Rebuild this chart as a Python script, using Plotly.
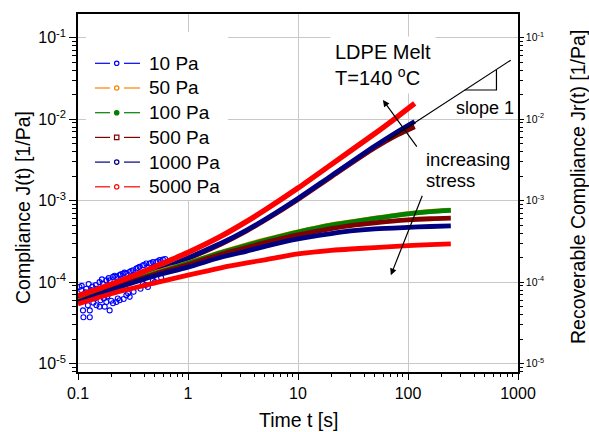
import plotly.graph_objects as go

FONT = "Arial, 'Liberation Sans', Helvetica, sans-serif"

# ---------------- data ----------------
stress_labels = ["10 Pa", "50 Pa", "100 Pa", "500 Pa", "1000 Pa", "5000 Pa"]
stress_colors = ["#0000FF", "#FF8000", "#008000", "#800000", "#000080", "#FF0000"]

# 10 Pa creep compliance (noisy, short times only)
t_10 = [0.103, 0.107, 0.115, 0.111, 0.112, 0.128, 0.128, 0.123, 0.142, 0.147,
        0.157, 0.168, 0.181, 0.194, 0.208, 0.223, 0.239, 0.256, 0.275, 0.295,
        0.316, 0.339, 0.363, 0.389, 0.417, 0.448, 0.480, 0.514, 0.552, 0.592,
        0.157, 0.175, 0.194, 0.223, 0.239, 0.275, 0.295, 0.208, 0.181, 0.147,
        0.132, 0.119, 0.389, 0.432, 0.480, 0.552, 0.152,
        0.105, 0.108, 0.118, 0.125, 0.135, 0.138, 0.145, 0.160, 0.165, 0.172,
        0.185, 0.190, 0.200, 0.215, 0.230, 0.245, 0.260, 0.265, 0.285, 0.305,
        0.320, 0.350, 0.370, 0.400, 0.410, 0.460, 0.500, 0.530, 0.570, 0.620]
J_10 = [8.7e-5, 8.0e-5, 6.9e-5, 4.5e-5, 3.7e-5, 4.5e-5, 3.7e-5, 5.2e-5, 6.3e-5, 5.2e-5,
        1.0e-4, 9.6e-5, 1.05e-4, 1.05e-4, 1.16e-4, 1.16e-4, 1.22e-4, 1.27e-4, 1.27e-4, 1.34e-4,
        1.40e-4, 1.47e-4, 1.54e-4, 1.61e-4, 1.69e-4, 1.69e-4, 1.77e-4, 1.77e-4, 1.86e-4, 1.89e-4,
        5.0e-5, 5.0e-5, 4.5e-5, 5.7e-5, 6.0e-5, 6.9e-5, 6.6e-5, 5.5e-5, 5.7e-5, 8.3e-5,
        8.0e-5, 8.3e-5, 9.6e-5, 8.7e-5, 1.05e-4, 1.40e-4, 7.2e-5,
        6.0e-5, 9.0e-5, 7.5e-5, 9.5e-5, 8.8e-5, 5.6e-5, 9.2e-5, 6.0e-5, 1.08e-4, 6.3e-5,
        6.7e-5, 1.12e-4, 5.9e-5, 1.20e-4, 6.3e-5, 1.25e-4, 6.2e-5, 1.31e-4, 7.3e-5, 1.37e-4,
        7.6e-5, 1.50e-4, 8.3e-5, 1.62e-4, 9.2e-5, 1.72e-4, 1.0e-4, 1.80e-4, 1.13e-4, 1.92e-4]

# creep compliance J(t) [1/Pa]
t_creep = [0.1, 0.2, 0.3, 0.5, 1, 2, 3.42, 5, 10, 20, 50, 80, 115]
J_500 = [6.1e-5, 8.3e-5, 1.0e-4, 1.31e-4, 1.94e-4, 2.94e-4, 4.27e-4, 5.74e-4, 1.035e-3, 1.955e-3, 4.45e-3, 6.4e-3, 8.07e-3]
J_1000 = [6.2e-5, 8.41e-5, 1.022e-4, 1.332e-4, 1.978e-4, 3.0e-4, 4.36e-4, 5.87e-4, 1.065e-3, 2.015e-3, 4.68e-3, 7.01e-3, 9.38e-3]
J_5000 = [6.8e-5, 9.42e-5, 1.163e-4, 1.548e-4, 2.31e-4, 3.66e-4, 5.56e-4, 7.67e-4, 1.43e-3, 2.77e-3, 6.67e-3, 1.07e-2, 1.56e-2]

# recoverable compliance Jr(t) [1/Pa]
t_rec = [0.1, 0.2, 0.3, 0.5, 1, 2, 3.42, 5, 10, 20, 30, 50, 100, 160, 245]
Jr_50 = [5.9e-5, 8.5e-5, 1.03e-4, 1.3e-4, 1.72e-4, 2.33e-4, 2.88e-4, 3.3e-4, 4.15e-4, 5.05e-4, 5.5e-4, 6.1e-4, 6.95e-4, 7.4e-4, 7.65e-4]
Jr_100 = [5.8e-5, 8.4e-5, 1.02e-4, 1.28e-4, 1.7e-4, 2.3e-4, 2.84e-4, 3.25e-4, 4.1e-4, 5.0e-4, 5.45e-4, 6.05e-4, 6.9e-4, 7.35e-4, 7.6e-4]
Jr_500 = [5.7e-5, 8.2e-5, 1.0e-4, 1.25e-4, 1.63e-4, 2.2e-4, 2.66e-4, 3.05e-4, 3.8e-4, 4.55e-4, 4.95e-4, 5.35e-4, 5.8e-4, 6.0e-4, 6.1e-4]
Jr_1000 = [5.6e-5, 8.0e-5, 9.6e-5, 1.2e-4, 1.53e-4, 2.02e-4, 2.4e-4, 2.75e-4, 3.4e-4, 3.95e-4, 4.25e-4, 4.5e-4, 4.7e-4, 4.82e-4, 4.9e-4]
Jr_5000 = [5.4e-5, 7.2e-5, 8.3e-5, 9.8e-5, 1.22e-4, 1.5e-4, 1.72e-4, 1.88e-4, 2.22e-4, 2.45e-4, 2.55e-4, 2.65e-4, 2.8e-4, 2.88e-4, 2.95e-4]

# slope-1 guide line and triangle
slope_t = [65.6, 859]
slope_J = [5.5e-3, 5.3e-2]
tri_t = [328, 637, 637]
tri_J = [0.0228, 0.0228, 0.0401]

# axis ticks
x_tickvals = [0.1, 1, 10, 100, 1000]
x_ticktext = ["0.1", "1", "10", "100", "1000"]
y_tickvals = [1e-5, 1e-4, 1e-3, 1e-2, 1e-1]
y_ticktext = ["10<sup>-5</sup>", "10<sup>-4</sup>", "10<sup>-3</sup>", "10<sup>-2</sup>", "10<sup>-1</sup>"]

# ---------------- geometry helpers ----------------
W, H = 589, 432
ML, MR, MT, MB = 78, 71, 14, 60
PW, PH = W - ML - MR, H - MT - MB


def px(x):
    return (x - ML) / PW


def py(y):
    return (H - MB - y) / PH


minor_x = [m * 10 ** e for e in range(-1, 3) for m in range(2, 10)]
minor_y = [m * 10 ** e for e in range(-6, 0) for m in range(2, 10)]

fig = go.Figure()

# 10 Pa scatter (bottom)
fig.add_trace(go.Scatter(x=t_10, y=J_10, mode="markers", yaxis="y",
                         marker=dict(symbol="circle-open", size=5, color=stress_colors[0],
                                     line=dict(width=1.1)),
                         showlegend=False, hoverinfo="skip"))

BAND = 4.8


def band(t, v, col, axis, w=BAND):
    return go.Scatter(x=t, y=v, mode="lines", yaxis=axis,
                      line=dict(color=col, width=w, shape="spline", smoothing=0.8),
                      showlegend=False)


# creep curves (lower layer)
fig.add_trace(band(t_creep, J_500, stress_colors[3], "y"))
fig.add_trace(band(t_creep, J_1000, stress_colors[4], "y"))

# recoverable compliance curves (right axis)
for vals, col in [(Jr_50, stress_colors[1]), (Jr_100, stress_colors[2]), (Jr_500, stress_colors[3]),
                  (Jr_1000, stress_colors[4]), (Jr_5000, stress_colors[5])]:
    fig.add_trace(band(t_rec, vals, col, "y2"))

# 5000 Pa creep on top
fig.add_trace(band(t_creep, J_5000, stress_colors[5], "y2", BAND + 0.6))

# slope line and triangle
fig.add_trace(go.Scatter(x=slope_t, y=slope_J, mode="lines", yaxis="y2",
                         line=dict(color="black", width=1.2), showlegend=False))
fig.add_trace(go.Scatter(x=tri_t, y=tri_J, mode="lines", yaxis="y2",
                         line=dict(color="black", width=1.2), showlegend=False))

axis_common = dict(type="log", showline=True, linecolor="black", linewidth=1.5,
                   ticks="outside", tickcolor="black", tickwidth=1.2, zeroline=False)

fig.update_layout(
    width=W, height=H,
    margin=dict(l=ML, r=MR, t=MT, b=MB),
    plot_bgcolor="white", paper_bgcolor="white",
    font=dict(family=FONT, color="black"),
    showlegend=False,
    xaxis=dict(**axis_common, range=[-1, 3], mirror=True, ticklen=6,
               tickvals=x_tickvals, ticktext=x_ticktext, tickfont=dict(size=16),
               showgrid=True, gridcolor="#c8c8c8", gridwidth=1,
               minor=dict(tickvals=minor_x, ticks="outside", ticklen=3, tickcolor="black",
                          tickwidth=1, showgrid=False)),
    yaxis=dict(**axis_common, range=[-5.103, -0.709], ticklen=7,
               tickvals=y_tickvals, ticktext=y_ticktext, tickfont=dict(size=16),
               showgrid=True, gridcolor="#c8c8c8", gridwidth=1,
               minor=dict(tickvals=minor_y, ticks="outside", ticklen=4, tickcolor="black",
                          tickwidth=1, showgrid=False)),
    yaxis2=dict(**axis_common, range=[-5.103, -0.709], overlaying="y", side="right", anchor="x",
                ticklen=4, tickvals=y_tickvals, ticktext=y_ticktext, tickfont=dict(size=10.5),
                showgrid=False,
                minor=dict(tickvals=minor_y, ticks="outside", ticklen=3, tickcolor="black",
                           tickwidth=1, showgrid=False)),
)

annotations = []
shapes = []

# axis titles
annotations.append(dict(text="Compliance J(t) [1/Pa]", xref="paper", yref="paper",
                        x=px(23), y=py(208), textangle=-90, showarrow=False,
                        font=dict(size=19.5), xanchor="center", yanchor="middle"))
annotations.append(dict(text="Recoverable Compliance Jr(t) [1/Pa]", xref="paper", yref="paper",
                        x=px(578), y=py(187), textangle=-90, showarrow=False,
                        font=dict(size=19.5), xanchor="center", yanchor="middle"))
annotations.append(dict(text="Time t [s]", xref="paper", yref="paper",
                        x=px(298), y=py(420), showarrow=False,
                        font=dict(size=19.5), xanchor="center", yanchor="middle"))

# text labels
annotations.append(dict(text="LDPE Melt<br>T=140 <sup>o</sup>C", xref="paper", yref="paper",
                        x=px(330), y=py(65), xanchor="left", yanchor="middle", align="left",
                        showarrow=False, font=dict(size=20), bgcolor="white", borderpad=4))
annotations.append(dict(text="increasing", xref="paper", yref="paper", x=px(424), y=py(159),
                        xanchor="left", yanchor="middle", showarrow=False, font=dict(size=18.5)))
annotations.append(dict(text="stress", xref="paper", yref="paper", x=px(424), y=py(180),
                        xanchor="left", yanchor="middle", showarrow=False, font=dict(size=18.5)))
annotations.append(dict(text="slope 1", xref="paper", yref="paper", x=px(454), y=py(108),
                        xanchor="left", yanchor="middle", showarrow=False, font=dict(size=18)))

# arrows (heads in log10 data units)
annotations.append(dict(text="", xref="x", yref="y", x=1.772, y=-1.765, ax=35, ay=48,
                        showarrow=True, arrowhead=2, arrowsize=1.1, arrowwidth=1.2, arrowcolor="black"))
annotations.append(dict(text="", xref="x", yref="y", x=1.844, y=-3.915, ax=32, ay=-81,
                        showarrow=True, arrowhead=2, arrowsize=1.1, arrowwidth=1.2, arrowcolor="black"))

# custom legend
shapes.append(dict(type="rect", xref="paper", yref="paper", x0=px(86), x1=px(228),
                   y0=py(200), y1=py(32), fillcolor="white", line=dict(width=0), layer="above"))
legend_y0, legend_dy = 63.3, 24.7
for i, (lab, col) in enumerate(zip(stress_labels, stress_colors)):
    yc = legend_y0 + i * legend_dy
    for xa, xb in [(95, 110), (124, 140)]:
        shapes.append(dict(type="line", xref="paper", yref="paper", x0=px(xa), x1=px(xb),
                           y0=py(yc), y1=py(yc), line=dict(color=col, width=1.2), layer="above"))
    r = 2.2
    fill = col if lab == "100 Pa" else "white"
    stype = "rect" if lab == "500 Pa" else "circle"
    shapes.append(dict(type=stype, xref="paper", yref="paper", x0=px(116.7 - r), x1=px(116.7 + r),
                       y0=py(yc + r), y1=py(yc - r), fillcolor=fill,
                       line=dict(color=col, width=1.2), layer="above"))
    annotations.append(dict(text=lab, xref="paper", yref="paper", x=px(146.7), y=py(yc),
                            xanchor="left", yanchor="middle", showarrow=False, font=dict(size=19)))

fig.update_layout(annotations=annotations, shapes=shapes)

fig.write_html("out.html")
